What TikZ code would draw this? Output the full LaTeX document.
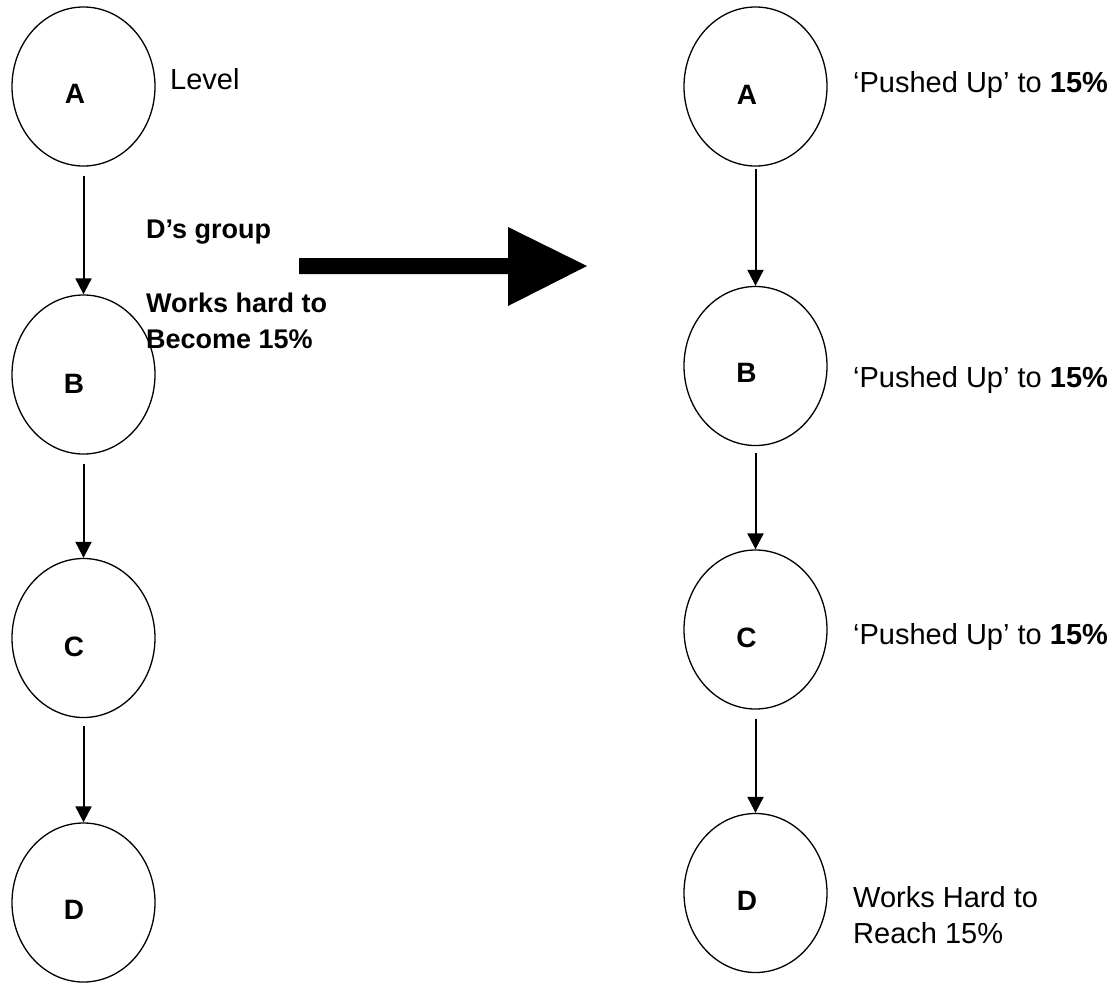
\documentclass[tikz,border=0pt]{standalone}
\usepackage{fontspec}
\setmainfont{Liberation Sans}
\usetikzlibrary{arrows.meta,shapes.geometric}
\begin{document}
\begin{tikzpicture}[x=1pt,y=-1pt,
  circ/.style={draw, line width=1.3pt, ellipse, minimum width=143pt, minimum height=159pt, inner sep=0pt},
  lbl/.style={font=\fontsize{28}{32}\selectfont\bfseries, inner sep=0pt},
  conn/.style={line width=2pt, -{Triangle[length=16pt,width=16pt]}},
  txt/.style={font=\fontsize{29}{36}\selectfont, inner sep=0pt, anchor=base west, align=left},
  btxt/.style={font=\fontsize{27}{36}\selectfont\bfseries, inner sep=0pt, anchor=base west, align=left}]
\useasboundingbox (0,0) rectangle (1117,983);

% left column
\node[circ] (LA) at (83.5,86.5) {};
\node[circ] (LB) at (83.5,374.5) {};
\node[circ] (LC) at (83.5,638) {};
\node[circ] (LD) at (83.5,902.5) {};
\node[lbl] (LAt) at (75,94) {A};
\node[lbl] (LBt) at (74,384) {B};
\node[lbl] (LCt) at (74,647) {C};
\node[lbl] (LDt) at (74,910) {D};
\draw[conn] ([yshift=-9pt]LA.south) -- (LB.north);
\draw[conn] ([yshift=-9pt]LB.south) -- (LC.north);
\draw[conn] ([yshift=-8pt]LC.south) -- (LD.north);

% right column
\node[circ] (RA) at (755.5,86.5) {};
\node[circ] (RB) at (755.5,366) {};
\node[circ] (RC) at (755.5,629.5) {};
\node[circ] (RD) at (755.5,893) {};
\node[lbl] (RAt) at (747,94.5) {A};
\node[lbl] (RBt) at (746.5,372.5) {B};
\node[lbl] (RCt) at (746.5,638) {C};
\node[lbl] (RDt) at (747,901) {D};
\draw[conn] ([yshift=-2pt]RA.south) -- (RB.north);
\draw[conn] ([yshift=-7pt]RB.south) -- (RC.north);
\draw[conn] ([yshift=-9pt]RC.south) -- (RD.north);

% texts
\node[txt] (lev) at (170,89) {Level};
\node[btxt] (dgrp) at (146,238) {D’s group};
\node[btxt] (work) at (146,348) {Works hard to\\Become 15\%};
\node[txt] (pa) at (853,92) {‘Pushed Up’ to \textbf{15\%}};
\node[txt] (pb) at (853,387) {‘Pushed Up’ to \textbf{15\%}};
\node[txt] (pc) at (853,644) {‘Pushed Up’ to \textbf{15\%}};
\node[txt] (pd) at (853,943) {Works Hard to\\Reach 15\%};

% big arrow
\fill (299,258) -- (508,258) -- (508,227) -- (587,266) -- (508,306) -- (508,274) -- (299,274) -- cycle;
\end{tikzpicture}
\end{document}
